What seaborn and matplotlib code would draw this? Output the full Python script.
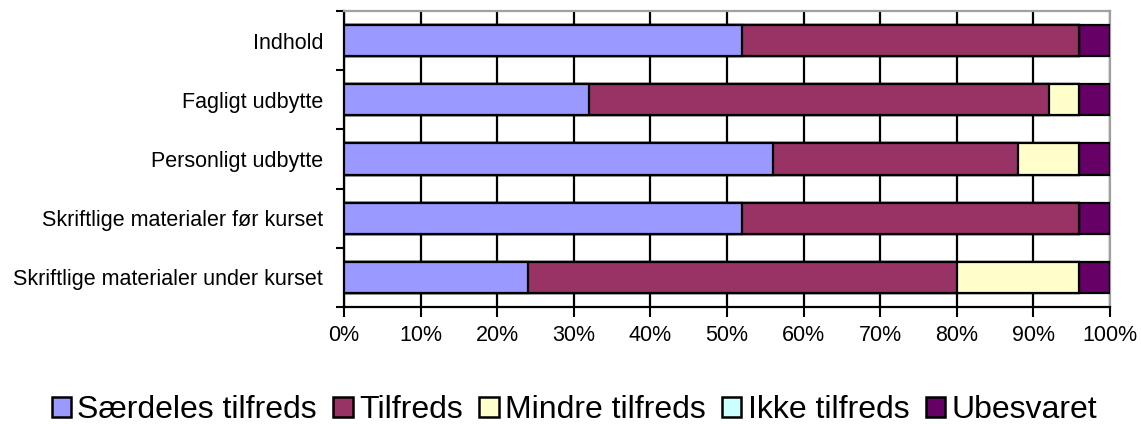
import matplotlib
matplotlib.use("Agg")
import matplotlib.pyplot as plt
import seaborn as sns
import numpy as np
from matplotlib.patches import Patch

categories = ["Indhold", "Fagligt udbytte", "Personligt udbytte",
              "Skriftlige materialer før kurset", "Skriftlige materialer under kurset"]
series_names = ["Særdeles tilfreds", "Tilfreds", "Mindre tilfreds", "Ikke tilfreds", "Ubesvaret"]
saerdeles = [52, 32, 56, 52, 24]
tilfreds = [44, 60, 32, 44, 56]
mindre = [0, 4, 8, 0, 16]
ikke = [0, 0, 0, 0, 0]
ubesvaret = [4, 4, 4, 4, 4]
colors = ["#9999FF", "#993366", "#FFFFCC", "#CCFFFF", "#660066"]
x_ticks = [0, 10, 20, 30, 40, 50, 60, 70, 80, 90, 100]

sns.set_theme(style="white")
plt.rcParams["font.family"] = ["Liberation Sans", "DejaVu Sans"]
plt.rcParams["text.color"] = "black"
plt.rcParams["xtick.color"] = "black"
plt.rcParams["ytick.color"] = "black"

fig = plt.figure(figsize=(11.41, 4.24), dpi=100)
ax = fig.add_axes([0.3015, 0.276, 0.6714, 0.698])

series = [saerdeles, tilfreds, mindre, ikke, ubesvaret]
cum = np.cumsum(np.array(series, dtype=float), axis=0)

# stacked bars: draw the longest cumulative bar first, shorter ones on top
for i in range(len(series) - 1, -1, -1):
    sns.barplot(x=cum[i], y=categories, orient="h", color=colors[i],
                edgecolor="black", linewidth=1.6, width=0.53, ax=ax,
                saturation=1, zorder=3)

ax.set_xlim(0, 100)
ax.set_ylim(4.5, -0.5)
ax.set_xticks(x_ticks)
ax.set_xticklabels([f"{t}%" for t in x_ticks], fontsize=15.5)
ax.set_yticks(range(len(categories)))
ax.set_yticklabels(categories, fontsize=15.5)
ax.set_yticks(np.arange(-0.5, len(categories), 1.0), minor=True)
ax.tick_params(axis="y", which="major", length=0, pad=15)
ax.tick_params(axis="y", which="minor", length=6, width=1.5, color="black", direction="out", left=True)
ax.tick_params(axis="x", which="major", length=7, width=1.5, color="black", direction="out", bottom=True, pad=6)
ax.set_xlabel("")
ax.set_ylabel("")

ax.grid(False)
for t in x_ticks:
    ax.axvline(t, color="black", linewidth=1.6, zorder=1)

for side in ["left", "bottom"]:
    ax.spines[side].set_color("black")
    ax.spines[side].set_linewidth(1.6)
for side in ["top", "right"]:
    ax.spines[side].set_color("#a0a0a0")
    ax.spines[side].set_linewidth(1.6)

handles = [Patch(facecolor=c, edgecolor="black", linewidth=1.8) for c in colors]
fig.legend(handles, series_names, loc="center", bbox_to_anchor=(0.5035, 0.033),
           ncol=5, frameon=False, fontsize=23, handlelength=0.6, handleheight=0.6,
           handletextpad=0.2, columnspacing=0.52, borderaxespad=0, borderpad=0)

fig.savefig("out.png", dpi=100)
